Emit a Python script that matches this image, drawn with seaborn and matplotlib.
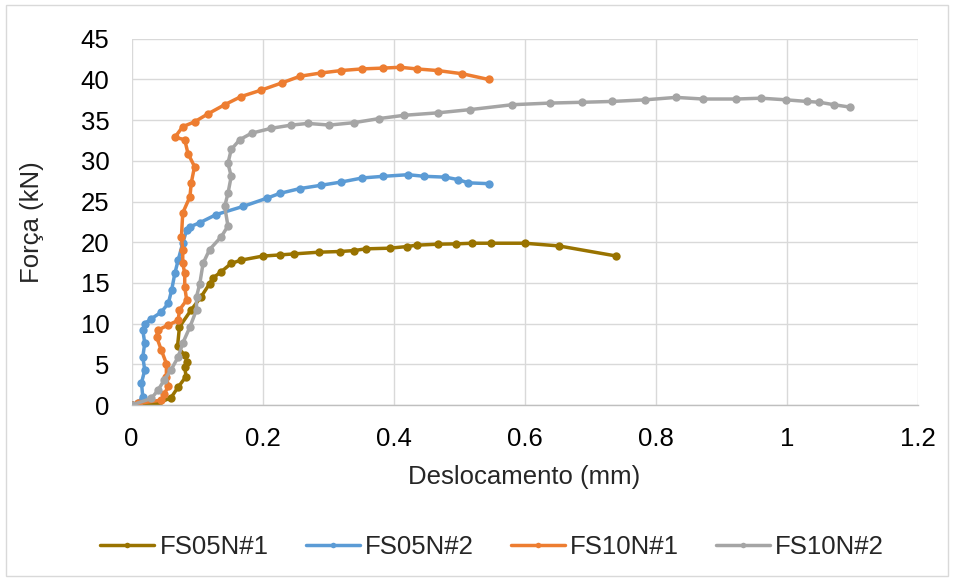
import matplotlib
matplotlib.use('Agg')
import numpy as np
import pandas as pd
import seaborn as sns
import matplotlib.pyplot as plt
from matplotlib.patches import Rectangle

sns.set_style('white')
plt.rcParams['font.family'] = ['Liberation Sans', 'DejaVu Sans']

# valores (Deslocamento em mm, Força em kN)
fs05n1_x = [0, 0.02, 0.04, 0.06, 0.071, 0.083, 0.081, 0.085, 0.081, 0.07, 0.073, 0.091, 0.106,
            0.119, 0.124, 0.137, 0.152, 0.167, 0.2, 0.226, 0.248, 0.286, 0.318, 0.34, 0.357,
            0.394, 0.42, 0.435, 0.467, 0.495, 0.52, 0.548, 0.6, 0.652, 0.739]
fs05n1_y = [0, 0.1, 0.2, 0.9, 2.2, 3.5, 4.7, 5.3, 6.1, 7.2, 9.6, 11.7, 13.3,
            14.9, 15.6, 16.4, 17.4, 17.8, 18.3, 18.44, 18.57, 18.78, 18.86, 18.98, 19.19,
            19.27, 19.47, 19.64, 19.76, 19.8, 19.88, 19.88, 19.88, 19.55, 18.32]

fs05n2_x = [0, 0.01, 0.017, 0.015, 0.02, 0.017, 0.02, 0.017, 0.02, 0.03, 0.045, 0.056, 0.061,
            0.066, 0.071, 0.078, 0.084, 0.089, 0.104, 0.129, 0.17, 0.206, 0.226, 0.257, 0.289,
            0.32, 0.352, 0.384, 0.422, 0.447, 0.479, 0.498, 0.514, 0.545]
fs05n2_y = [0, 0.3, 1.0, 2.7, 4.3, 5.9, 7.6, 9.2, 10.0, 10.6, 11.4, 12.5, 14.1,
            16.2, 17.8, 19.9, 21.5, 21.9, 22.4, 23.4, 24.4, 25.4, 26.0, 26.6, 27.0,
            27.4, 27.9, 28.1, 28.3, 28.1, 28.0, 27.7, 27.3, 27.2]

fs10n1_x = [0, 0.01, 0.045, 0.05, 0.056, 0.053, 0.053, 0.045, 0.038, 0.04, 0.055, 0.071, 0.073,
            0.084, 0.081, 0.081, 0.078, 0.078, 0.076, 0.078, 0.089, 0.091, 0.096, 0.086, 0.081,
            0.066, 0.078, 0.096, 0.117, 0.142, 0.167, 0.198, 0.23, 0.257, 0.289, 0.32, 0.352,
            0.384, 0.41, 0.435, 0.467, 0.505, 0.545]
fs10n1_y = [0, 0.2, 0.6, 1.4, 2.3, 3.5, 5.1, 6.8, 8.4, 9.2, 9.8, 10.4, 11.7,
            12.9, 14.5, 16.2, 17.4, 19.1, 20.7, 23.6, 25.6, 27.3, 29.3, 30.9, 32.6,
            32.9, 34.2, 34.8, 35.8, 36.9, 37.9, 38.7, 39.6, 40.4, 40.8, 41.1, 41.3,
            41.4, 41.5, 41.3, 41.1, 40.7, 40.0]

fs10n2_x = [0, 0.03, 0.04, 0.05, 0.06, 0.071, 0.078, 0.089, 0.099, 0.099, 0.104, 0.109, 0.119,
            0.137, 0.147, 0.142, 0.147, 0.152, 0.147, 0.152, 0.165, 0.183, 0.213, 0.244, 0.269,
            0.302, 0.34, 0.378, 0.416, 0.467, 0.517, 0.581, 0.638, 0.688, 0.733, 0.784, 0.831,
            0.872, 0.923, 0.961, 0.999, 1.031, 1.05, 1.072, 1.097]
fs10n2_y = [0, 0.8, 1.8, 3.1, 4.3, 5.9, 7.6, 9.6, 11.7, 13.3, 14.9, 17.4, 19.1,
            20.7, 22.0, 24.4, 26.0, 28.1, 29.7, 31.4, 32.6, 33.4, 34.0, 34.4, 34.6,
            34.4, 34.7, 35.2, 35.6, 35.9, 36.3, 36.9, 37.1, 37.2, 37.3, 37.5, 37.8,
            37.6, 37.6, 37.7, 37.5, 37.3, 37.2, 36.9, 36.6]

series = ['FS05N#1', 'FS05N#2', 'FS10N#1', 'FS10N#2']
colors = ['#997300', '#5B9BD5', '#ED7D31', '#A5A5A5']

frames = []
for nome, xs, ys in zip(series, [fs05n1_x, fs05n2_x, fs10n1_x, fs10n2_x],
                        [fs05n1_y, fs05n2_y, fs10n1_y, fs10n2_y]):
    d = pd.DataFrame({'Deslocamento': xs, 'Forca': ys})
    d['serie'] = nome
    frames.append(d)
df = pd.concat(frames, ignore_index=True)

fs = 18.5
fig = plt.figure(figsize=(9.54, 5.79), dpi=100)
ax = fig.add_axes([0.138, 0.3005, 0.824, 0.6325])

sns.lineplot(data=df, x='Deslocamento', y='Forca', hue='serie', hue_order=series,
             palette=colors, sort=False, estimator=None,
             marker='o', markersize=6, markeredgewidth=0, linewidth=2.5, ax=ax)

ax.set_xlim(0, 1.2)
ax.set_ylim(0, 45)
ax.set_xticks(np.arange(0, 1.21, 0.2))
ax.set_xticklabels(['0', '0.2', '0.4', '0.6', '0.8', '1', '1.2'])
ax.set_yticks(np.arange(0, 46, 5))
ax.grid(True, color='#D9D9D9', linewidth=1.0)
ax.set_axisbelow(True)
for s in ['top', 'right', 'left']:
    ax.spines[s].set_visible(False)
ax.spines['bottom'].set_color('#BFBFBF')
ax.spines['bottom'].set_linewidth(1.0)
ax.tick_params(axis='x', length=0, labelsize=fs, colors='black', pad=16)
ax.tick_params(axis='y', length=0, labelsize=fs, colors='black', pad=16)

ax.set_xlabel('Deslocamento (mm)', fontsize=fs, va='center')
ax.xaxis.set_label_coords(0.499, -0.197)
ax.set_ylabel('Força (kN)', fontsize=fs, va='center')
ax.yaxis.set_label_coords(-0.127, 0.5)

handles, labels = ax.get_legend_handles_labels()
for h in handles:
    h.set_markersize(4)
ax.get_legend().remove()
fig.legend(handles, labels, loc='center', bbox_to_anchor=(0.516, 0.056), ncol=4,
           frameon=False, fontsize=fs, handlelength=2.1, columnspacing=1.45,
           handletextpad=0.2)

fig.patches.append(Rectangle((0.006, 0.006), 0.988, 0.985, transform=fig.transFigure,
                             fill=False, edgecolor='#D9D9D9', linewidth=1.0))

fig.savefig('out.png', dpi=100)
